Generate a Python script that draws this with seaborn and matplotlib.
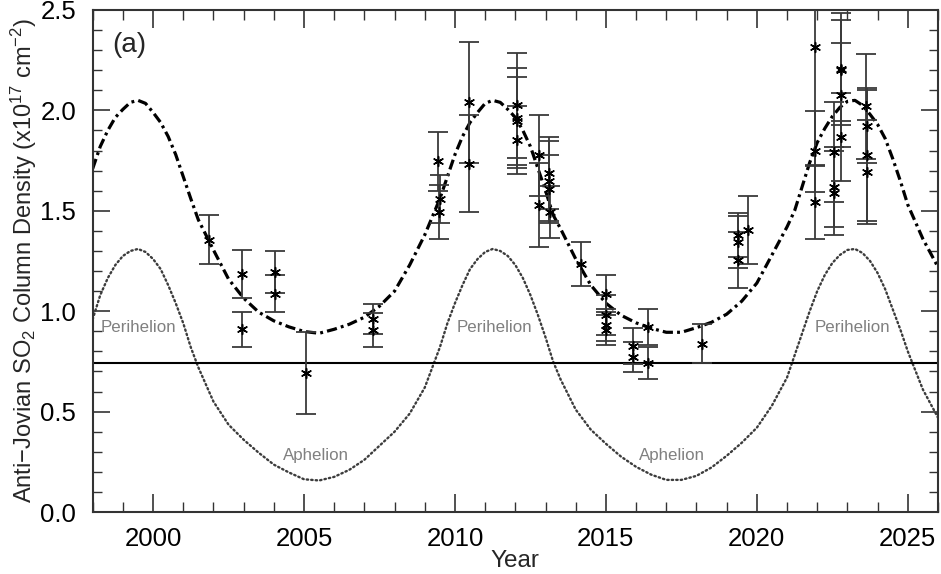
import numpy as np
import pandas as pd
import matplotlib
matplotlib.use("Agg")
import matplotlib.pyplot as plt
from matplotlib.ticker import MultipleLocator, FormatStrFormatter
import seaborn as sns

# ---------------- data ----------------
model_year = [1998.0, 1998.25, 1998.5, 1998.75, 1999.0, 1999.25, 1999.5, 1999.75, 2000.0, 2000.25,
              2000.5, 2000.75, 2001.0, 2001.25, 2001.5, 2002.0, 2002.5,
              2003.0, 2003.5, 2004.0, 2004.5, 2005.0, 2005.5, 2006.0, 2006.5, 2007.0, 2007.5,
              2008.0, 2008.5, 2009.0, 2009.5, 2009.75, 2010.0, 2010.25, 2010.5, 2010.75,
              2011.0, 2011.25, 2011.5, 2011.75, 2012.0, 2012.25, 2012.5, 2012.75,
              2013.0, 2013.25, 2013.5, 2014.0, 2014.5, 2015.0, 2015.5, 2016.0, 2016.5, 2017.0, 2017.5,
              2018.0, 2018.5, 2019.0, 2019.5, 2020.0, 2020.5, 2021.0, 2021.25, 2021.5, 2021.75,
              2022.0, 2022.25, 2022.5, 2022.75, 2023.0, 2023.25, 2023.5, 2023.75, 2024.0, 2024.25,
              2024.5, 2024.75, 2025.0, 2025.5, 2026.0]
model_density = [1.71, 1.82, 1.90, 1.965, 2.005, 2.04, 2.05, 2.035, 1.99, 1.94,
                 1.87, 1.78, 1.67, 1.56, 1.455, 1.305, 1.16,
                 1.065, 0.995, 0.952, 0.922, 0.899, 0.89, 0.91, 0.935, 0.97, 1.025,
                 1.10, 1.23, 1.38, 1.56, 1.67, 1.78, 1.87, 1.94, 1.99,
                 2.035, 2.05, 2.04, 2.005, 1.965, 1.90, 1.82, 1.71,
                 1.60, 1.48, 1.41, 1.26, 1.13, 1.04, 0.98, 0.942, 0.915, 0.895, 0.895,
                 0.918, 0.945, 0.985, 1.05, 1.14, 1.28, 1.42, 1.50, 1.62, 1.74,
                 1.84, 1.91, 1.97, 2.015, 2.045, 2.05, 2.025, 1.98, 1.93, 1.86,
                 1.76, 1.65, 1.53, 1.36, 1.22]
orbit_curve = [0.96, 1.08, 1.165, 1.23, 1.275, 1.30, 1.31, 1.295, 1.26, 1.21,
               1.13, 1.04, 0.94, 0.82, 0.72, 0.55, 0.435,
               0.36, 0.295, 0.236, 0.197, 0.163, 0.157, 0.175, 0.21, 0.26, 0.33,
               0.40, 0.49, 0.62, 0.82, 0.94, 1.04, 1.13, 1.21, 1.26,
               1.295, 1.31, 1.30, 1.275, 1.23, 1.165, 1.08, 0.98,
               0.87, 0.75, 0.66, 0.51, 0.41, 0.34, 0.276, 0.225, 0.186, 0.16, 0.16,
               0.18, 0.222, 0.28, 0.345, 0.42, 0.53, 0.67, 0.78, 0.89, 1.00,
               1.10, 1.18, 1.24, 1.28, 1.305, 1.31, 1.29, 1.25, 1.19, 1.11,
               1.01, 0.91, 0.80, 0.61, 0.47]
baseline = 0.74

obs_year = [2001.86, 2002.93, 2002.93, 2004.04, 2004.04, 2005.06, 2007.29, 2007.29,
            2009.44, 2009.50, 2009.47, 2010.47, 2010.47,
            2012.06, 2012.04, 2012.04, 2012.06,
            2012.79, 2012.79,
            2013.12, 2013.12, 2013.12, 2013.14,
            2014.17,
            2015.00, 2015.00, 2015.00, 2015.00,
            2015.90, 2015.90, 2016.40, 2016.40,
            2018.18,
            2019.38, 2019.36, 2019.36, 2019.71,
            2021.92, 2021.92, 2021.92,
            2022.55, 2022.55, 2022.55,
            2022.78, 2022.80, 2022.80, 2022.80,
            2023.63, 2023.65, 2023.65, 2023.65]
obs_val = [1.357, 1.184, 0.909, 1.195, 1.088, 0.693, 0.96, 0.905,
           1.746, 1.56, 1.494, 2.04, 1.735,
           2.025, 1.963, 1.947, 1.854,
           1.776, 1.53,
           1.688, 1.65, 1.61, 1.494,
           1.237,
           1.088, 0.98, 0.93, 0.905,
           0.826, 0.773, 0.922, 0.743,
           0.839,
           1.378, 1.345, 1.254, 1.406,
           2.315, 1.796, 1.544,
           1.793, 1.62, 1.59,
           2.207, 2.199, 2.078, 1.867,
           2.02, 1.92, 1.78, 1.693]
obs_err = [0.12, 0.12, 0.085, 0.105, 0.09, 0.205, 0.075, 0.085,
           0.146, 0.12, 0.135, 0.30, 0.24,
           0.26, 0.25, 0.22, 0.17,
           0.20, 0.21,
           0.18, 0.20, 0.17, 0.13,
           0.11,
           0.09, 0.10, 0.08, 0.075,
           0.09, 0.075, 0.09, 0.08,
           0.095,
           0.11, 0.13, 0.14, 0.17,
           0.59, 0.20, 0.185,
           0.25, 0.20, 0.21,
           0.28, 0.25, 0.26, 0.22,
           0.26, 0.18, 0.33, 0.26]

peri_years = [1999.5, 2011.3, 2023.15]
aph_years = [2005.4, 2017.2]

# ---------------- figure ----------------
sns.set_style("ticks")
plt.rcParams["font.family"] = ["Liberation Sans", "DejaVu Sans"]
plt.rcParams["mathtext.fontset"] = "custom"
plt.rcParams["mathtext.rm"] = "Liberation Sans"
plt.rcParams["mathtext.it"] = "Liberation Sans:italic"

fig, ax = plt.subplots(figsize=(9.41, 5.74), dpi=100)
fig.subplots_adjust(left=0.0985, right=0.9968, bottom=0.108, top=0.9826)

curves = pd.DataFrame({"year": model_year, "model": model_density, "orbit": orbit_curve})
obs = pd.DataFrame({"year": obs_year, "val": obs_val, "err": obs_err})

sns.lineplot(data=curves, x="year", y="orbit", ax=ax, color="#3c3c3c", lw=1.7,
             linestyle=(0, (0.6, 1.3)), dash_capstyle="round")
sns.lineplot(data=curves, x="year", y="model", ax=ax, color="black", lw=2.3,
             linestyle=(0, (3.2, 1.3, 0.9, 1.3)))
ax.axhline(baseline, color="black", lw=1.5)

ax.errorbar(obs["year"], obs["val"], yerr=obs["err"], fmt="none", ecolor="#3a3a3a",
            elinewidth=1.3, capsize=7.5, capthick=1.3, zorder=3)
sns.scatterplot(data=obs, x="year", y="val", ax=ax, marker=(6, 2, 0), s=50,
                color="black", linewidth=1.1, edgecolor="black", zorder=4, legend=False)

for px in peri_years:
    ax.text(px, 0.92, "Perihelion", ha="center", va="center", fontsize=12.2, color="#808080")
for ap in aph_years:
    ax.text(ap, 0.28, "Aphelion", ha="center", va="center", fontsize=12.2, color="#808080")
ax.text(0.023, 0.93, "(a)", transform=ax.transAxes, fontsize=20, ha="left", va="center")

ax.set_xlim(1998, 2026)
ax.set_ylim(0, 2.5)
ax.xaxis.set_major_locator(MultipleLocator(5))
ax.xaxis.set_minor_locator(MultipleLocator(1))
ax.yaxis.set_major_locator(MultipleLocator(0.5))
ax.yaxis.set_minor_locator(MultipleLocator(0.1))
ax.yaxis.set_major_formatter(FormatStrFormatter("%.1f"))
ax.tick_params(axis="both", which="both", direction="in", top=True, right=True,
               colors="#333333", labelcolor="black")
ax.tick_params(axis="x", which="major", length=13, width=1.2, labelsize=18.5, pad=11)
ax.tick_params(axis="x", which="minor", length=7, width=1.0)
ax.tick_params(axis="y", which="major", length=12, width=1.2, labelsize=18.5, pad=12)
ax.tick_params(axis="y", which="minor", length=6.5, width=1.0)
for s in ax.spines.values():
    s.set_linewidth(1.5)
    s.set_color("#333333")

ax.set_xlabel("Year", fontsize=17.5, labelpad=-1)
ax.set_ylabel(r"Anti$-$Jovian SO$_2$ Column Density (x10$^{17}$ cm$^{-2}$)", fontsize=17, labelpad=1)

fig.savefig("out.png", dpi=100)
